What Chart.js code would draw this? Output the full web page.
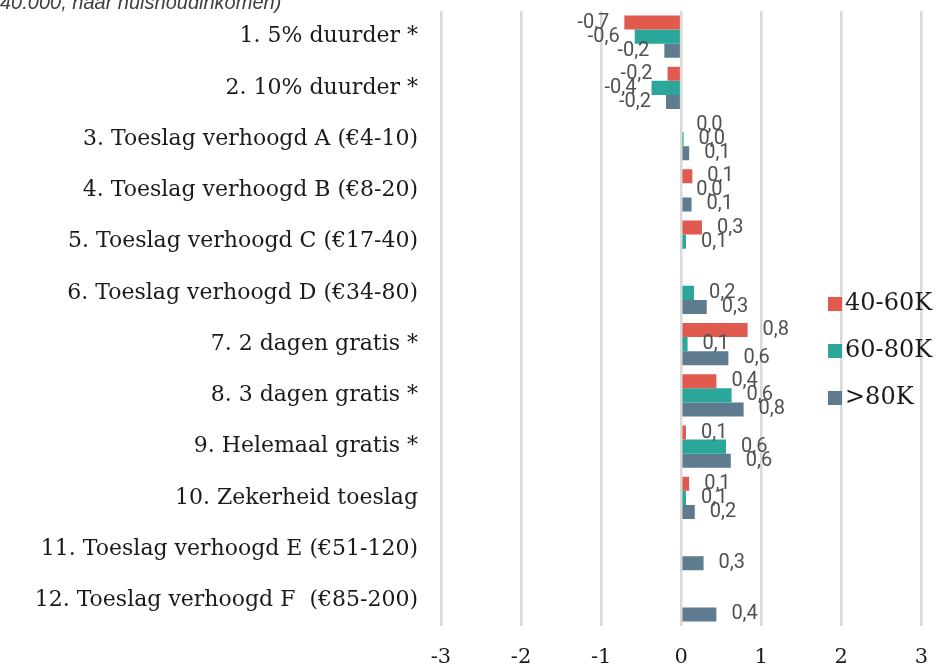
<!DOCTYPE html>
<html>
<head>
<meta charset="utf-8">
<script src="https://cdn.jsdelivr.net/npm/chart.js@4.4.0/dist/chart.umd.min.js"></script>
<style>
  html, body { margin: 0; padding: 0; background: #fff; overflow: hidden; }
  #wrap { position: relative; width: 947px; height: 671px; }
  #subtitle {
    position: absolute; left: 0; top: -9px;
    font: italic 20px "Liberation Sans", Arial, sans-serif; color: #404040;
    white-space: nowrap;
  }
</style>
</head>
<body>
<div id="wrap">
  <div id="subtitle">40.000, naar huishoudinkomen)</div>
  <canvas id="chart_elem" width="947" height="671"></canvas>
</div>
<script>

const categories = [
  '1. 5% duurder *',
  '2. 10% duurder *',
  '3. Toeslag verhoogd A (€4-10)',
  '4. Toeslag verhoogd B (€8-20)',
  '5. Toeslag verhoogd C (€17-40)',
  '6. Toeslag verhoogd D (€34-80)',
  '7. 2 dagen gratis *',
  '8. 3 dagen gratis *',
  '9. Helemaal gratis *',
  '10. Zekerheid toeslag',
  '11. Toeslag verhoogd E (€51-120)',
  '12. Toeslag verhoogd F  (€85-200)'
];

// effect per income group, null = no bar
const inc40_60 = [-0.71, -0.17, 0.0, 0.14, 0.26, null, 0.83, 0.44, 0.06, 0.1, null, null];
const inc60_80 = [-0.58, -0.37, 0.03, 0.0, 0.06, 0.16, 0.08, 0.63, 0.56, 0.06, null, null];
const inc80plus = [-0.21, -0.19, 0.1, 0.13, null, 0.32, 0.59, 0.78, 0.62, 0.17, 0.28, 0.44];

const xTicks = [-3, -2, -1, 0, 1, 2, 3];

const serif = '"DejaVu Serif", serif';

// value labels next to each bar end
const barLabels = {
  id: 'barLabels',
  afterDatasetsDraw(chart) {
    const ctx = chart.ctx;
    ctx.save();
    ctx.font = '20px Roboto, "Liberation Sans", sans-serif';
    ctx.fillStyle = '#505050';
    ctx.textBaseline = 'middle';
    chart.data.datasets.forEach((ds, i) => {
      const meta = chart.getDatasetMeta(i);
      meta.data.forEach((bar, j) => {
        const v = ds.data[j];
        if (v === null) return;
        const txt = v.toFixed(1).replace('.', ',');
        if (v < 0) {
          ctx.textAlign = 'right';
          ctx.fillText(txt, bar.x - 15, bar.y);
        } else {
          ctx.textAlign = 'left';
          ctx.fillText(txt, bar.x + 15, bar.y);
        }
      });
    });
    ctx.restore();
  }
};

// legend drawn on the right, over the plot
const sideLegend = {
  id: 'sideLegend',
  afterDraw(chart) {
    const ctx = chart.ctx;
    ctx.save();
    ctx.font = '24px ' + serif;
    ctx.textBaseline = 'middle';
    ctx.textAlign = 'left';
    chart.data.datasets.forEach((ds, i) => {
      const y = 304 + i * 47;
      ctx.fillStyle = ds.backgroundColor;
      ctx.fillRect(828, y - 7, 14, 14);
      ctx.fillStyle = '#1a1a1a';
      ctx.fillText(ds.label, 845, y);
    });
    ctx.restore();
  }
};

const data = {
  labels: categories,
  datasets: [{
    label: '40-60K',
    data: inc40_60,
    backgroundColor: '#e05a4f'
  }, {
    label: '60-80K',
    data: inc60_80,
    backgroundColor: '#2aa69a'
  }, {
    label: '>80K',
    data: inc80plus,
    backgroundColor: '#5f7b8f'
  }]
};

const config = {
  type: 'bar',
  data,
  options: {
    indexAxis: 'y',
    responsive: false,
    animation: false,
    layout: { padding: { top: 11, right: 25, left: 0, bottom: 0 } },
    datasets: {
      bar: { categoryPercentage: 0.82, barPercentage: 1.0, skipNull: false }
    },
    plugins: {
      legend: { display: false },
      tooltip: { enabled: false }
    },
    scales: {
      x: {
        min: -3,
        max: 3,
        afterBuildTicks: (axis) => { axis.ticks = xTicks.map(v => ({ value: v })); },
        afterFit: (axis) => { axis.height = 45; },
        grid: { color: '#d9d9d9', lineWidth: 2.5, drawTicks: false },
        border: { display: false },
        ticks: { color: '#1a1a1a', font: { family: serif, size: 21 }, padding: 19 }
      },
      y: {
        grid: { display: false },
        border: { display: false },
        afterFit: (axis) => {
          axis.width = 441;
          axis.paddingTop = 0;
          axis.paddingBottom = 0;
        },
        ticks: { color: '#1a1a1a', font: { family: serif, size: 22 }, padding: 15 }
      }
    }
  },
  plugins: [barLabels, sideLegend]
};

const chart = new Chart(document.getElementById('chart_elem').getContext('2d'), config);
</script>
</body>
</html>
